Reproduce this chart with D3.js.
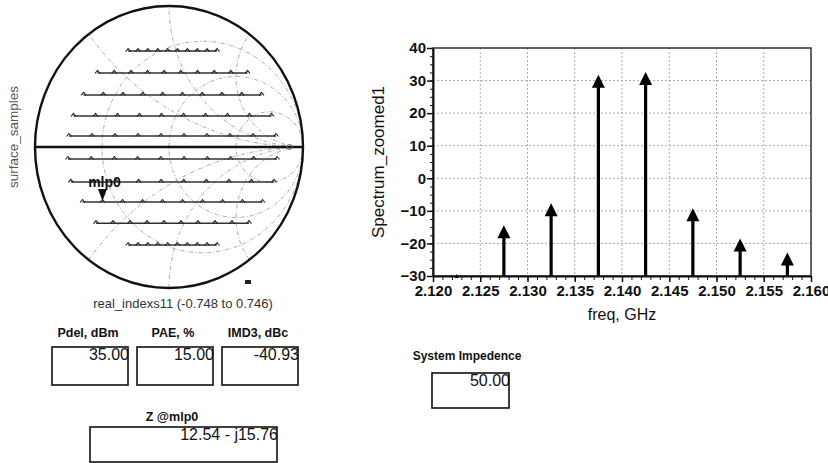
<!DOCTYPE html>
<html>
<head>
<meta charset="utf-8">
<script src="https://cdn.jsdelivr.net/npm/d3@7"></script>
<style>
  body { margin: 0; background: #fff; }
  text { font-family: "Liberation Sans", Arial, sans-serif; }
</style>
</head>
<body>
<svg width="828" height="463"></svg>
<script>
// spectrum data
const freqs = [2.1225, 2.1275, 2.1325, 2.1375, 2.1425, 2.1475, 2.1525, 2.1575];
const spectrum = [-29.4, -14.4, -7.7, 31.8, 32.6, -9.2, -18.5, -22.8];
const xTicks = [2.120, 2.125, 2.130, 2.135, 2.140, 2.145, 2.150, 2.155, 2.160];
const yTicks = [-30, -20, -10, 0, 10, 20, 30, 40];

// smith chart samples: real index values, and per row the imag part + width factor
const realIndex = [-0.748, -0.582, -0.416, -0.250, -0.084, 0.082, 0.248, 0.414, 0.580, 0.746];
const rowImag = [0.68, 0.525, 0.369, 0.22, 0.078, -0.085, -0.248, -0.39, -0.54, -0.695];
const rowScale = [0.444, 0.749, 0.889, 0.989, 1.034, 1.044, 1.014, 0.899, 0.764, 0.444];
const rowOffset = 0.027;
const markerRow = 7, markerIdx = 1;
const rCircles = [1 / 3, 1, 3];
const xArcs = [0.5, -0.5, 1, -1, 2, -2];

// readouts
const readoutLabels = ['Pdel, dBm', 'PAE, %', 'IMD3, dBc'];
const readoutValues = ['35.00', '15.00', '-40.93'];
const zLabel = 'Z @mlp0';
const zValue = '12.54 - j15.76';
const sysLabel = 'System Impedence';
const sysValue = '50.00';

const svg = d3.select('svg');

// ---------- smith chart ----------
const SX = 134, SY = 141;
const sx = d3.scaleLinear().domain([-1, 1]).range([35, 303]);
const sy = d3.scaleLinear().domain([-1, 1]).range([288, 6]);

svg.append('clipPath').attr('id', 'unit')
    .append('ellipse')
    .attr('cx', sx(0)).attr('cy', sy(0)).attr('rx', SX).attr('ry', SY);

const grid = svg.append('g').attr('clip-path', 'url(#unit)')
    .attr('fill', 'none').attr('stroke', '#a0a0a0')
    .attr('stroke-width', 0.9).attr('stroke-dasharray', '4,2,1,2');

grid.selectAll('.rc').data(rCircles).enter().append('ellipse')
    .attr('cx', r => sx(r / (1 + r))).attr('cy', sy(0))
    .attr('rx', r => SX / (1 + r)).attr('ry', r => SY / (1 + r));

grid.selectAll('.xa').data(xArcs).enter().append('ellipse')
    .attr('cx', sx(1)).attr('cy', x => sy(1 / x))
    .attr('rx', x => SX / Math.abs(x)).attr('ry', x => SY / Math.abs(x));

// sample rows
const rowLine = d3.line().x(d => sx(d[0])).y(d => sy(d[1]));
const rows = rowImag.map((im, i) => realIndex.map(re => [rowOffset + re * rowScale[i], im]));

svg.append('g').selectAll('path').data(rows).enter().append('path')
    .attr('d', rowLine)
    .attr('fill', 'none').attr('stroke', '#333').attr('stroke-width', 1.5);

svg.append('g').selectAll('path').data(rows.flat()).enter().append('path')
    .attr('d', d => `M${sx(d[0]) - 2.5},${sy(d[1]) + 0.5} L${sx(d[0])},${sy(d[1]) - 2.5} L${sx(d[0]) + 2.5},${sy(d[1]) + 0.5}`)
    .attr('fill', 'none').attr('stroke', '#222').attr('stroke-width', 1.1);

// real axis + outer boundary
svg.append('line')
    .attr('x1', sx(-1)).attr('x2', sx(1)).attr('y1', sy(0)).attr('y2', sy(0))
    .attr('stroke', '#111').attr('stroke-width', 2.4);
svg.append('circle').attr('cx', sx(0.9)).attr('cy', sy(0)).attr('r', 2.5)
    .attr('fill', 'none').attr('stroke', '#666');
svg.append('ellipse')
    .attr('cx', sx(0)).attr('cy', sy(0)).attr('rx', SX).attr('ry', SY)
    .attr('fill', 'none').attr('stroke', '#111').attr('stroke-width', 2.4);

// marker
const mp = rows[markerRow][markerIdx];
const mx = sx(mp[0]), my = sy(mp[1]);
svg.append('path')
    .attr('d', `M${mx - 4.5},${my - 13} L${mx + 4.5},${my - 13} L${mx},${my - 1} Z`)
    .attr('fill', '#111');
svg.append('text').attr('x', mx + 2).attr('y', my - 15)
    .attr('text-anchor', 'middle').attr('font-size', 14).attr('font-weight', 'bold')
    .attr('fill', '#111').text('mlp0');

svg.append('rect').attr('x', 245).attr('y', 280).attr('width', 6).attr('height', 4).attr('fill', '#222');

svg.append('text')
    .attr('transform', `translate(18,${sy(0) - 10}) rotate(-90)`)
    .attr('text-anchor', 'middle').attr('font-size', 13.5).attr('fill', '#555')
    .text('surface_samples');
svg.append('text').attr('x', 183).attr('y', 308)
    .attr('text-anchor', 'middle').attr('font-size', 13).attr('fill', '#333')
    .text('real_indexs11 (-0.748 to 0.746)');

// ---------- spectrum ----------
const x = d3.scaleLinear().domain([2.12, 2.16]).range([433, 811]);
const y = d3.scaleLinear().domain([-30, 40]).range([276, 48]);
const chart = svg.append('g');

chart.append('g').selectAll('line').data(xTicks.slice(1, -1)).enter().append('line')
    .attr('x1', d => x(d)).attr('x2', d => x(d)).attr('y1', y(40)).attr('y2', y(-30))
    .attr('stroke', '#aaa').attr('stroke-dasharray', '2,2');
chart.append('g').selectAll('line').data(yTicks.slice(1, -1)).enter().append('line')
    .attr('x1', x(2.12)).attr('x2', x(2.16)).attr('y1', d => y(d)).attr('y2', d => y(d))
    .attr('stroke', '#aaa').attr('stroke-dasharray', '2,2');

chart.append('rect')
    .attr('x', x(2.12)).attr('y', y(40))
    .attr('width', x(2.16) - x(2.12)).attr('height', y(-30) - y(40))
    .attr('fill', 'none').attr('stroke', '#222').attr('stroke-width', 1.4);

// minor ticks
chart.append('g').attr('transform', `translate(${x(2.12)},0)`)
    .call(d3.axisLeft(y).tickValues(d3.range(-30, 40.1, 2.5)).tickSize(3).tickFormat(''))
    .call(g => g.select('.domain').remove())
    .attr('color', '#111');
chart.append('g').attr('transform', `translate(0,${y(-30)})`)
    .call(d3.axisBottom(x).tickValues(d3.range(0, 41).map(i => 2.12 + i * 0.001)).tickSize(4).tickFormat(''))
    .call(g => g.select('.domain').remove())
    .attr('color', '#111');

const yAxis = chart.append('g').attr('transform', `translate(${x(2.12)},0)`)
    .call(d3.axisLeft(y).tickValues(yTicks).tickSize(6).tickSizeOuter(0))
    .attr('color', '#111');
yAxis.select('.domain').attr('stroke-width', 2);
yAxis.selectAll('line').attr('stroke-width', 1.5);
yAxis.selectAll('text').attr('font-size', 15).attr('font-weight', 'bold')
    .attr('font-family', '"Liberation Sans", Arial, sans-serif').attr('x', -7);

const xAxis = chart.append('g').attr('transform', `translate(0,${y(-30)})`)
    .call(d3.axisBottom(x).tickValues(xTicks).tickSize(6).tickSizeOuter(0).tickFormat(d3.format('.3f')))
    .attr('color', '#111');
xAxis.select('.domain').attr('stroke-width', 2);
xAxis.selectAll('line').attr('stroke-width', 1.5);
xAxis.selectAll('text').attr('font-size', 15).attr('font-weight', 'bold')
    .attr('font-family', '"Liberation Sans", Arial, sans-serif').attr('y', 9);

// stems with arrowheads
const lines = freqs.map((f, i) => ({ f: f, v: spectrum[i] }));
const HEAD = 13;
chart.append('g').selectAll('line').data(lines).enter().append('line')
    .attr('x1', d => x(d.f)).attr('x2', d => x(d.f))
    .attr('y1', y(-30)).attr('y2', d => y(d.v) + 4)
    .attr('stroke', '#000').attr('stroke-width', 3.2);
chart.append('g').selectAll('path').data(lines).enter().append('path')
    .attr('d', d => {
        const h = Math.min(HEAD, y(-30) - y(d.v));
        const w = h * 0.5;
        return `M${x(d.f)},${y(d.v)} L${x(d.f) + w},${y(d.v) + h} L${x(d.f) - w},${y(d.v) + h} Z`;
    })
    .attr('fill', '#000');

svg.append('text')
    .attr('transform', `translate(384,${(y(40) + y(-30)) / 2}) rotate(-90)`)
    .attr('text-anchor', 'middle').attr('font-size', 17).attr('fill', '#111')
    .text('Spectrum_zoomed1');
svg.append('text').attr('x', x(2.14)).attr('y', 320)
    .attr('text-anchor', 'middle').attr('font-size', 16).attr('fill', '#111')
    .text('freq, GHz');

// ---------- readout boxes ----------
const boxX = [52, 137, 222];
function box(bx, by, w, h, label, value, lx, ly, lsize) {
    svg.append('text').attr('x', lx).attr('y', ly)
        .attr('text-anchor', 'middle').attr('font-size', lsize).attr('font-weight', 'bold')
        .attr('fill', '#111').text(label);
    svg.append('rect').attr('x', bx).attr('y', by).attr('width', w).attr('height', h)
        .attr('fill', 'none').attr('stroke', '#111').attr('stroke-width', 1.6);
    svg.append('text').attr('x', bx + w + 1).attr('y', by + 13)
        .attr('text-anchor', 'end').attr('font-size', 16).attr('fill', '#111')
        .text(value);
}
readoutLabels.forEach((l, i) => box(boxX[i], 347, 76, 38, l, readoutValues[i], boxX[i] + 36, 337, 12.5));
box(90, 427, 187, 35, zLabel, zValue, 172, 421, 12.5);
box(432, 373, 77, 35, sysLabel, sysValue, 467, 360, 12);
</script>
</body>
</html>
